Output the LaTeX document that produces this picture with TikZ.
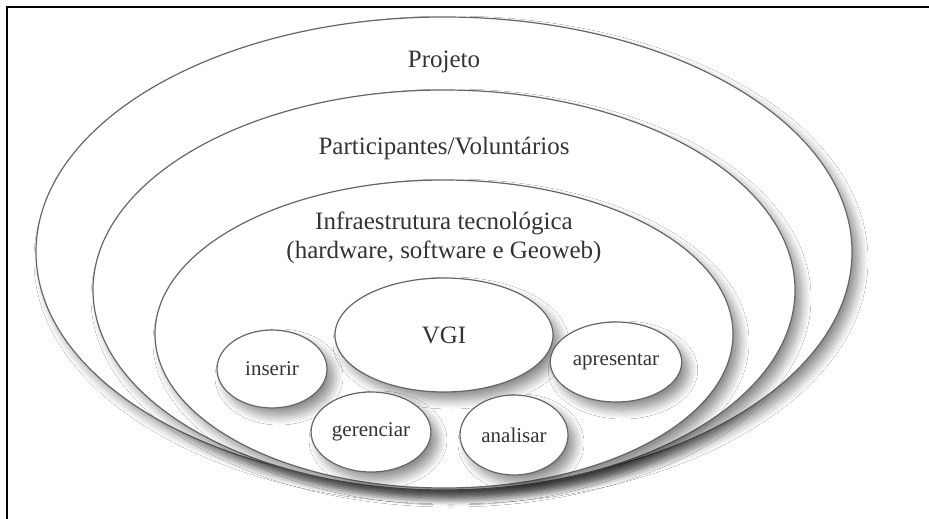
\documentclass[tikz,border=0pt]{standalone}
\usepackage{fontspec}
\setmainfont{Liberation Serif}
\usetikzlibrary{shapes.geometric,shadows.blur}
\tikzset{
  oval/.style={ellipse,draw=black!60,line width=1.2pt,fill=white,
    blur shadow={shadow xshift=7pt,shadow yshift=-8pt,shadow blur radius=9pt,shadow blur steps=12,shadow opacity=45}},
  bigtxt/.style={font=\fontsize{25}{29}\selectfont,text=black!80,align=center},
  smalltxt/.style={font=\fontsize{21}{24}\selectfont,text=black!80},
}
\begin{document}
\begin{tikzpicture}[x=1pt,y=-1pt]
\useasboundingbox (0,0) rectangle (929,519);
\fill[white] (0,0) rectangle (929,519);
%frame
\coordinate (f1) at (7,519);
\coordinate (f2) at (7,7);
\coordinate (f3) at (929,7);
\draw[line width=2pt] (f1) -- (f2) -- (f3);
%layers
\node[oval,minimum width=816pt,minimum height=470pt] (projeto) at (444,252) {};
\node[oval,minimum width=702pt,minimum height=400pt] (partic) at (444,290) {};
\node[oval,minimum width=578pt,minimum height=308pt] (infra) at (444,334) {};
\node[bigtxt] (projeto-t) at (444,62) {Projeto};
\node[bigtxt] (partic-t) at (444,148) {Participantes/Voluntários};
\node[bigtxt] (infra-t) at (444,238) {Infraestrutura tecnológica\\(hardware, software e Geoweb)};
%core
\node[oval,minimum width=218pt,minimum height=114pt] (vgi) at (444,335) {};
\node[bigtxt] (vgi-t) at (444,335) {VGI};
\node[oval,smalltxt,minimum width=110pt,minimum height=78pt] (inserir) at (272,369) {inserir};
\node[oval,smalltxt,minimum width=108pt,minimum height=80pt] (gerenciar) at (371,432) {gerenciar};
\node[oval,smalltxt,minimum width=108pt,minimum height=80pt] (analisar) at (514,435) {analisar};
\node[oval,smalltxt,minimum width=112pt,minimum height=80pt] (apresentar) at (616,362) {apresentar};
\end{tikzpicture}
\end{document}
